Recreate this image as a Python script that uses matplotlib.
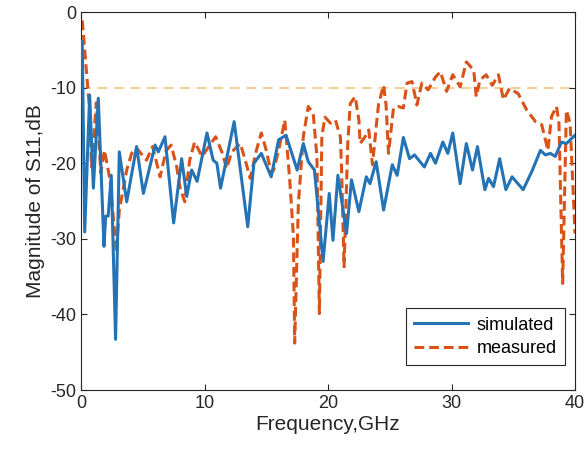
import matplotlib
matplotlib.use("Agg")
import matplotlib.pyplot as plt

plt.rcParams['font.family'] = ['Liberation Sans', 'DejaVu Sans']
plt.rcParams['axes.unicode_minus'] = False

# simulated S11
sim_f = [0.1, 0.3, 0.7, 1.0, 1.4, 1.86, 2.0, 2.2, 2.45, 2.8, 3.1, 3.7, 4.5, 5.05,
         6.0, 6.26, 6.8, 7.5, 8.15, 8.56, 8.96, 9.4, 10.2, 10.7, 11.0, 11.3, 12.4,
         13.5, 14.0, 14.6, 15.4, 16.0, 16.6, 17.5, 18.0, 18.4, 18.9, 19.6, 20.1,
         20.4, 20.8, 21.5, 21.9, 22.5, 23.1, 23.4, 23.9, 24.5, 25.2, 25.6, 26.1,
         26.6, 27.0, 27.8, 28.3, 28.7, 29.3, 29.7, 30.1, 30.7, 31.2, 31.7, 32.1,
         32.7, 33.0, 33.4, 33.9, 34.4, 34.9, 35.8, 36.5, 37.2, 37.6, 38.0, 38.4,
         38.9, 39.3, 40.0]
sim_db = [-3.9, -29.1, -11.0, -23.3, -11.4, -31.0, -27.0, -27.0, -21.6, -43.3, -18.5,
          -25.1, -17.8, -24.0, -17.6, -18.5, -16.5, -27.9, -19.4, -24.4, -20.9, -22.4,
          -16.0, -19.6, -20.0, -23.3, -14.5, -28.4, -20.0, -18.7, -21.8, -16.9, -16.3,
          -20.9, -17.4, -19.8, -20.9, -33.0, -24.0, -30.2, -21.6, -29.3, -22.2, -26.4,
          -21.8, -22.7, -19.8, -26.2, -20.2, -21.6, -16.6, -19.4, -18.9, -20.5, -18.7,
          -20.0, -17.2, -18.7, -16.0, -22.7, -17.4, -20.9, -17.8, -23.5, -22.0, -23.1,
          -19.4, -23.5, -21.8, -23.5, -21.1, -18.3, -18.9, -18.7, -19.1, -17.2, -17.4,
          -16.3]

# measured S11
meas_f = [0.1, 0.3, 0.43, 0.55, 0.7, 0.85, 1.24, 1.5, 1.6, 1.9, 2.35, 2.86, 3.1, 3.7,
          4.1, 4.5, 5.3, 5.8, 6.4, 6.9, 7.3, 7.75, 8.0, 8.4, 8.8, 9.2, 9.8, 10.9, 11.4,
          11.8, 12.2, 12.9, 13.3, 13.7, 14.2, 14.6, 15.0, 15.4, 15.6, 16.0, 16.5, 16.9,
          17.2, 17.3, 17.6, 18.0, 18.4, 18.8, 19.1, 19.3, 19.5, 19.75, 20.2, 20.6, 21.0,
          21.1, 21.3, 21.6, 21.8, 22.2, 22.5, 22.6, 23.0, 23.3, 23.6, 23.9, 24.1, 24.5,
          24.7, 24.9, 25.3, 25.7, 26.1, 26.4, 26.8, 27.2, 27.6, 28.1, 28.7, 29.1, 29.6,
          30.1, 30.7, 31.2, 31.8, 32.0, 32.3, 32.8, 33.3, 33.8, 34.2, 34.7, 35.4, 36.1,
          36.8, 37.3, 37.6, 37.8, 38.1, 38.5, 38.7, 39.0, 39.3, 39.6, 40.0]
meas_db = [-1.1, -5.0, -7.7, -10.0, -13.0, -20.5, -12.0, -18.3, -21.3, -18.3, -22.2,
           -31.7, -26.2, -20.9, -18.7, -18.0, -19.6, -17.8, -21.8, -18.3, -17.6, -20.5,
           -23.1, -25.1, -19.6, -17.2, -19.1, -16.5, -18.5, -20.7, -18.5, -17.4, -19.6,
           -22.0, -18.3, -16.0, -18.3, -21.3, -20.9, -18.3, -14.3, -22.2, -29.7, -43.8,
           -25.3, -16.5, -12.5, -13.4, -19.1, -39.9, -16.5, -13.9, -14.7, -14.3, -16.5,
           -20.9, -33.7, -17.4, -12.1, -11.2, -14.3, -17.4, -16.5, -15.6, -20.2, -15.2,
           -12.1, -9.7, -12.3, -18.7, -12.7, -12.5, -12.7, -9.4, -9.2, -12.3, -9.4,
           -10.3, -8.6, -7.9, -10.5, -8.3, -9.9, -6.6, -7.7, -11.2, -9.0, -8.3, -9.7,
           -8.3, -11.6, -10.1, -10.8, -13.0, -14.5, -14.9, -16.9, -18.3, -13.8, -12.5,
           -14.7, -35.9, -13.0, -14.7, -29.3]

limit_db = -10

fig = plt.figure(figsize=(5.87, 4.57), dpi=100)
ax = fig.add_axes([0.138, 0.1466, 0.8416, 0.8271])

ax.axhline(limit_db, color='#F2CD96', lw=1.4, dashes=(5, 3.5), zorder=1)
ax.plot(sim_f, sim_db, color='#2473B5', lw=2.2, label='simulated', zorder=3,
        solid_joinstyle='round')
ax.plot(meas_f, meas_db, color='#D95319', lw=2.2, dashes=(3.2, 1.6),
        label='measured', zorder=2, dash_joinstyle='round')

ax.set_xlim(0, 40)
ax.set_ylim(-50, 0)
ax.set_xticks([0, 10, 20, 30, 40])
ax.set_yticks([-50, -40, -30, -20, -10, 0])
ax.tick_params(direction='in', length=4, labelsize=13, colors='#262626',
               top=True, right=True, labeltop=False, labelright=False)
for s in ax.spines.values():
    s.set_color('#262626')
    s.set_linewidth(0.8)

ax.set_xlabel('Frequency,GHz', fontsize=15, color='#262626', labelpad=2)
ax.set_ylabel('Magnitude of S11,dB', fontsize=15, color='#262626', labelpad=4)

leg = ax.legend(loc='lower right', bbox_to_anchor=(0.98, 0.066), borderaxespad=0,
                fontsize=13, fancybox=False, edgecolor='#262626', framealpha=1,
                handlelength=3.0, borderpad=0.45, labelspacing=0.35,
                handletextpad=0.5)
leg.get_frame().set_linewidth(0.8)

fig.savefig('out.png', dpi=100)
